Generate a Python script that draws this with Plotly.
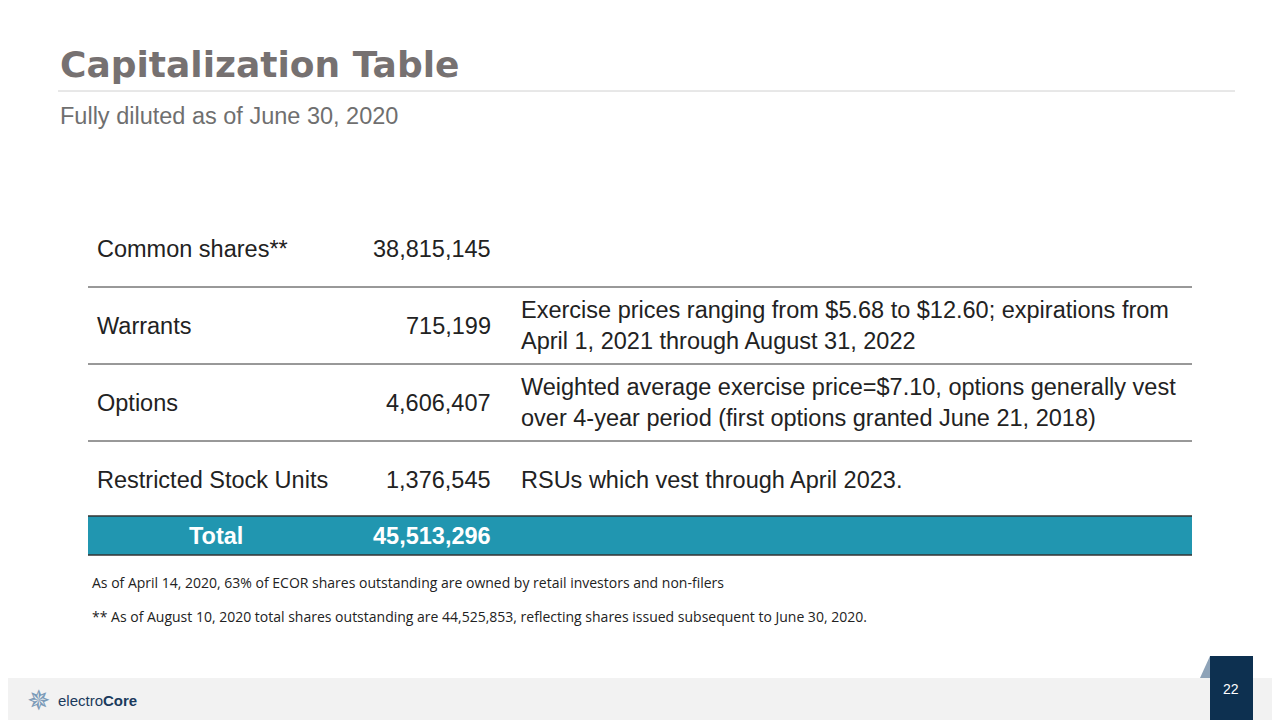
import plotly.graph_objects as go

title = "Capitalization Table"
subtitle = "Fully diluted as of June 30, 2020"
labels = ["Common shares**", "Warrants", "Options", "Restricted Stock Units"]
values = ["38,815,145", "715,199", "4,606,407", "1,376,545"]
notes = [
    "",
    "Exercise prices ranging from $5.68 to $12.60; expirations from<br>April 1, 2021 through August 31, 2022",
    "Weighted average exercise price=$7.10, options generally vest<br>over 4-year period (first options granted June 21, 2018)",
    "RSUs which vest through April 2023.",
]
total_label = "Total"
total_value = "45,513,296"
footnotes = [
    "As of April 14, 2020, 63% of ECOR shares outstanding are owned by retail investors and non-filers",
    "** As of August 10, 2020 total shares outstanding are 44,525,853, reflecting shares issued subsequent to June 30, 2020.",
]
page = "22"

FONT = "Liberation Sans"
fig = go.Figure()
shapes = []
ann = []


def text(x, y, s, size, color, anchor="left", family=FONT):
    ann.append(dict(x=x, y=y, xref="x", yref="y", text=s, xanchor=anchor, yanchor="middle",
                    align="left", showarrow=False, font=dict(family=family, size=size, color=color)))


def shape(**kw):
    kw.setdefault("xref", "x")
    kw.setdefault("yref", "y")
    kw.setdefault("layer", "below")
    shapes.append(kw)


# header
text(58, 64, "<b>" + title + "</b>", 36, "#767171", family="DejaVu Sans")
shape(type="line", x0=58, x1=1235, y0=91, y1=91, line=dict(color="#d0d0d0", width=1))
text(58, 116, subtitle, 23.5, "#6f6f6f")

# table rows
top, row_h = 210, 77
for i, (lab, val, note) in enumerate(zip(labels, values, notes)):
    yc = top + row_h * i + row_h / 2
    text(95, yc, lab, 23.5, "#222")
    text(493, yc, val, 23.5, "#222", anchor="right")
    if note:
        text(519, yc, note, 23.5, "#222")
    yb = top + row_h * (i + 1)
    if i < len(labels) - 1:
        shape(type="line", x0=88, x1=1192, y0=yb, y1=yb, line=dict(color="#333", width=1))

ty0 = top + row_h * len(labels) - 2
ty1 = ty0 + 39
shape(type="rect", x0=88, x1=1192, y0=ty0, y1=ty1, fillcolor="#2196b0", line=dict(width=0))
shape(type="line", x0=88, x1=1192, y0=ty0, y1=ty0, line=dict(color="#333", width=1.5))
shape(type="line", x0=88, x1=1192, y0=ty1, y1=ty1, line=dict(color="#333", width=1.5))
text(216, (ty0 + ty1) / 2, "<b>" + total_label + "</b>", 23.5, "white", anchor="center")
text(493, (ty0 + ty1) / 2, "<b>" + total_value + "</b>", 23.5, "white", anchor="right")

for j, fn in enumerate(footnotes):
    text(90, 582 + 34 * j, fn, 14, "#222", family="Open Sans")

# footer
shape(type="rect", x0=0, x1=1290, y0=678, y1=730, fillcolor="#f2f2f2", line=dict(width=0))
shape(type="path", path="M 1200 678 L 1210 656 L 1210 678 Z", fillcolor="#8ea3b8", line=dict(width=0))
shape(type="rect", x0=1210, x1=1253, y0=656, y1=730, fillcolor="#0d3050", line=dict(width=0))
text(1231, 689, page, 14, "white", anchor="center")
text(38, 700, "✵", 28, "#7a9ab8", anchor="center", family="DejaVu Sans")
text(56, 700, "electro<b>Core</b>", 15, "#1a3a5c")

# the page body adds an 8px offset, so the axes start at 8
fig.update_layout(
    width=1280, height=720, margin=dict(l=0, r=0, t=0, b=0, pad=0),
    paper_bgcolor="white", plot_bgcolor="white", showlegend=False,
    xaxis=dict(range=[8, 1288], visible=False, fixedrange=True),
    yaxis=dict(range=[728, 8], visible=False, fixedrange=True),
    shapes=shapes, annotations=ann,
)
fig.write_html("out.html")
